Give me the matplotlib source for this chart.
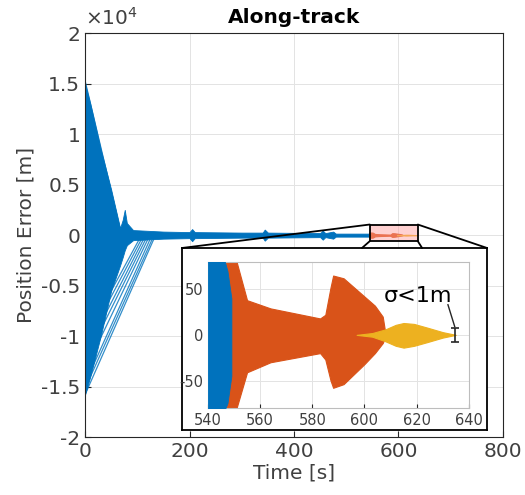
import matplotlib
matplotlib.use("Agg")
from matplotlib import pyplot as plt
from matplotlib.patches import Rectangle, ConnectionPatch
import numpy as np

plt.rcParams['axes.unicode_minus'] = False

# colours (MATLAB defaults)
c_blue = '#0072BD'
c_orange = '#D95319'
c_yellow = '#EDB120'
c_axis = '#262626'
c_text = '#404040'
c_grid = '#e3e3e3'

# ---- main plot envelopes ----
blue_t = [0, 10, 30, 50, 67, 72, 76, 80, 92, 150, 200, 205, 210, 300, 340, 344, 350, 450, 455, 460, 475, 480, 548]
blue_hi = [15000, 13000, 8500, 4500, 700, 1500, 2500, 1200, 500, 350, 300, 600, 300, 250, 250, 550, 250, 200, 450, 200, 350, 150, 150]
blue_lo = [-15800, -14000, -10000, -5500, -3000, -2200, -1500, -1000, -500, -350, -300, -600, -300, -250, -250, -550, -250, -200, -450, -200, -350, -150, -150]

# streak trajectories: start value at t=0 and time they reach ~0
streak_y0 = [15300, 14600, 13100, -15800, -15200, -14700, -13400, -12500, -11800, -11000, -10300]
streak_t1 = [70, 68, 64, 135, 132, 128, 124, 120, 116, 112, 108]

# ---- inset envelopes ----
in_blue_t = [540, 546, 547.5, 549]
in_blue_hi = [85, 85, 70, 40]
in_blue_lo = [-85, -85, -75, -45]

in_orange_t = [544, 549, 551, 555, 564, 583, 585, 587, 588, 592, 600, 604, 607, 608]
in_orange_hi = [85, 85, 80, 38, 29, 18, 22, 52, 65, 62, 42, 32, 20, 2]
in_orange_lo = [-85, -85, -80, -41, -30, -20, -27, -50, -58, -54, -32, -20, -9, -2]

in_yellow_t = [597, 603, 608, 612, 615, 619, 624, 630, 635]
in_yellow_hi = [0, 2, 6, 11, 13, 12, 8, 3, 0]
in_yellow_lo = [0, -2, -7, -12, -14, -12, -8, -3, 0]

sigma_t = 634.6
sigma_half = 8

xticks = [0, 200, 400, 600, 800]
yticks = [-20000, -15000, -10000, -5000, 0, 5000, 10000, 15000, 20000]
ytick_labels = ['-2', '-1.5', '-1', '-0.5', '0', '0.5', '1', '1.5', '2']
in_xticks = [540, 560, 580, 600, 620, 640]
in_yticks = [-50, 0, 50]

# zoom rectangle in main axes
zoom_x = (545, 637)
zoom_y = (-600, 1050)

fig = plt.figure(figsize=(5.25, 4.95), dpi=100)
ax = fig.add_axes([0.162, 0.117, 0.796, 0.816])

ax.fill_between(blue_t, blue_lo, blue_hi, color=c_blue, lw=0.6, zorder=2)
for y0, t1 in zip(streak_y0, streak_t1):
    ax.plot([0, t1], [y0, 0], color=c_blue, lw=0.9, alpha=0.8, zorder=2)
ax.fill_between(in_orange_t, np.array(in_orange_lo) * 3, np.array(in_orange_hi) * 3,
                color=c_orange, lw=0.8, zorder=2)
ax.fill_between(in_yellow_t, np.array(in_yellow_lo) * 3, np.array(in_yellow_hi) * 3,
                color=c_yellow, lw=0.8, zorder=2)

ax.set_xlim(0, 800)
ax.set_ylim(-20000, 20000)
ax.set_xticks(xticks)
ax.set_yticks(yticks)
ax.set_yticklabels(ytick_labels)
ax.grid(True, color=c_grid, lw=0.7)
ax.set_axisbelow(True)
ax.tick_params(direction='in', length=4, colors=c_axis, labelsize=14.5, labelcolor=c_text)
for s in ax.spines.values():
    s.set_color(c_axis)
    s.set_linewidth(0.8)
ax.set_title('Along-track', fontsize=14.5, fontweight='bold', color='black', pad=7)
ax.set_xlabel('Time [s]', fontsize=14.5, color=c_text, labelpad=2)
ax.set_ylabel('Position Error [m]', fontsize=14.5, color=c_text, labelpad=4)
ax.text(0.0, 1.01, r'$\times10^4$', transform=ax.transAxes, fontsize=14.5,
        color=c_text, ha='left', va='bottom')

ax.add_patch(Rectangle((zoom_x[0], zoom_y[0]), zoom_x[1] - zoom_x[0], zoom_y[1] - zoom_y[0],
                       facecolor='#ff9999', alpha=0.45, edgecolor='none', zorder=3))
ax.add_patch(Rectangle((zoom_x[0], zoom_y[0]), zoom_x[1] - zoom_x[0], zoom_y[1] - zoom_y[0],
                       facecolor='none', edgecolor='black', lw=1.3, zorder=4))

# outer white box of the inset
box = [0.3467, 0.131, 0.581, 0.368]
bax = fig.add_axes(box)
bax.set_xticks([])
bax.set_yticks([])
bax.set_facecolor('white')
for s in bax.spines.values():
    s.set_color('black')
    s.set_linewidth(1.3)

# connectors from zoom rect to the inset box
bl, bb, bw, bh = box
corners = [((zoom_x[0], zoom_y[1]), (bl, bb + bh)),
           ((zoom_x[1], zoom_y[1]), (bl + bw, bb + bh)),
           ((zoom_x[0], zoom_y[0]), (0.6895, bb + bh)),
           ((zoom_x[1], zoom_y[0]), (0.804, bb + bh))]
for (pa, pb) in corners:
    con = ConnectionPatch(xyA=pa, coordsA='data', axesA=ax,
                          xyB=pb, coordsB='figure fraction',
                          color='black', lw=1.3, zorder=10)
    fig.add_artist(con)

# inner zoomed axes
iax = fig.add_axes([0.396, 0.176, 0.497, 0.295])
iax.fill_between(in_orange_t, in_orange_lo, in_orange_hi, color=c_orange, lw=0.8, zorder=2)
iax.plot([597, 608], [0, 0], color=c_orange, lw=1.0, zorder=2)
iax.fill_between(in_blue_t, in_blue_lo, in_blue_hi, color=c_blue, lw=0.6, zorder=3)
iax.fill_between(in_yellow_t, in_yellow_lo, in_yellow_hi, color=c_yellow, lw=0.8, zorder=4)
iax.errorbar([sigma_t], [0], yerr=[sigma_half], color=c_axis, capsize=3, lw=1.2,
             capthick=1.2, zorder=5)
iax.text(620.5, 43, 'σ<1m', fontsize=16, ha='center', va='center', color='black')
iax.plot([632, sigma_t], [33, sigma_half + 1], color=c_axis, lw=1.0)
iax.set_xlim(540, 640)
iax.set_ylim(-80, 80)
iax.set_xticks(in_xticks)
iax.set_yticks(in_yticks)
iax.grid(True, color=c_grid, lw=0.7)
iax.set_axisbelow(True)
iax.tick_params(direction='in', length=3, colors=c_axis, labelsize=10.5, labelcolor=c_text)
for s in iax.spines.values():
    s.set_color('#bdbdbd')
    s.set_linewidth(0.8)

fig.savefig('out.png', dpi=100)
